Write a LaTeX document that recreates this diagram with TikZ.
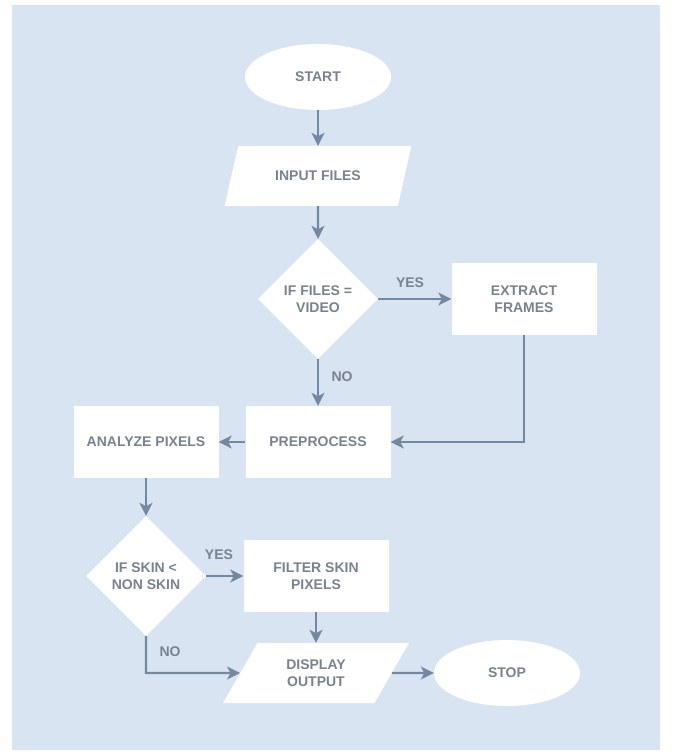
\documentclass[tikz,border=0pt]{standalone}
\usepackage{fontspec}
\setmainfont{Liberation Sans}
\usetikzlibrary{shapes.geometric,arrows.meta}
\definecolor{bgblue}{HTML}{D9E4F2}
\definecolor{linec}{HTML}{7488A0}
\definecolor{textc}{HTML}{7A828F}
\tikzset{
  base/.style={fill=white, draw=none, text=textc, font=\fontsize{14}{17}\selectfont\bfseries, align=center, inner sep=1pt},
  term/.style={base, ellipse, minimum width=146pt, minimum height=66pt},
  io/.style={base, trapezium, trapezium left angle=58, trapezium right angle=122, trapezium stretches=true, minimum width=187pt, minimum height=60pt},
  proc/.style={base, rectangle, minimum width=145pt, minimum height=72pt},
  dec/.style={base, diamond, minimum width=120pt, minimum height=120pt},
  arr/.style={draw=linec, line width=2.2pt, -{Stealth[length=13pt,width=13pt,inset=3.5pt]}},
  lbl/.style={text=textc, font=\fontsize{14}{17}\selectfont\bfseries, inner sep=0pt}
}
\begin{document}
\begin{tikzpicture}[x=1pt,y=-1pt]
\useasboundingbox (0,0) rectangle (675,754);
\fill[white] (0,0) rectangle (675,754);
\fill[bgblue] (12,5) rectangle (660,750);

\node[term] (start) at (318,77) {START};
\node[io] (input) at (318,176) {INPUT FILES};
\node[dec] (d1) at (318,299) {IF FILES =\\VIDEO};
\node[proc] (extract) at (524,299) {EXTRACT\\FRAMES};
\node[proc] (pre) at (318,442) {PREPROCESS};
\node[proc] (analyze) at (146,442) {ANALYZE PIXELS};
\node[dec] (d2) at (146,576) {IF SKIN <\\NON SKIN};
\node[proc] (filter) at (316,576) {FILTER SKIN\\PIXELS};
\node[io] (display) at (316,673) {DISPLAY\\OUTPUT};
\node[term] (stop) at (507,673) {STOP};

\coordinate (c1) at (524,442);
\coordinate (c2) at (146,673);

\draw[arr] (start) -- (input);
\draw[arr] (input) -- (d1);
\draw[arr] (d1) -- (extract);
\draw[arr] (d1) -- (pre);
\draw[arr] (extract.south) -- (c1) -- (pre.east);
\draw[arr] (pre) -- (analyze);
\draw[arr] (analyze) -- (d2);
\draw[arr] (d2) -- (filter);
\draw[arr] (filter) -- (display);
\draw[arr] (d2.south) -- (c2) -- (display.west);
\draw[arr] (display) -- (stop);

\node[lbl] (yes1) at (410,283) {YES};
\node[lbl] (no1) at (342,377) {NO};
\node[lbl] (yes2) at (219,555) {YES};
\node[lbl] (no2) at (170,652) {NO};
\end{tikzpicture}
\end{document}
